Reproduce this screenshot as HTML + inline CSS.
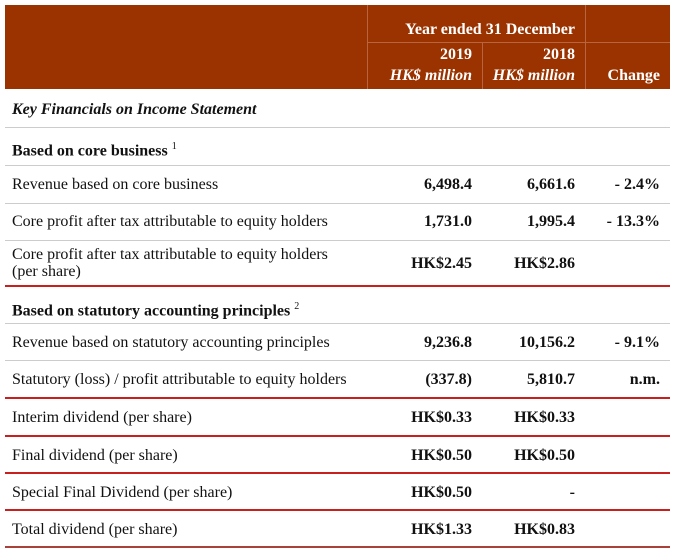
<!DOCTYPE html>
<html><head><meta charset="utf-8"><style>
body{margin:0;width:675px;height:556px;background:#fff;position:relative;font-family:"Liberation Serif",serif;font-size:16px;color:#111;overflow:hidden}
.a{position:absolute;white-space:nowrap;line-height:18px}
.b{font-weight:bold}
.r{text-align:right}
.hd{position:absolute;left:5px;top:5px;width:665px;height:84px;background:#9a3300}
.w{color:#fff;font-weight:bold}
.vl{position:absolute;width:1px;background:#b8653f}
.g{position:absolute;left:5px;width:665px;height:1px;background:#ccc}
.rd{position:absolute;left:5px;width:665px;height:2px;background:#c8201e}
</style></head><body>
<div class="hd"></div>
<div class="vl" style="left:367px;top:5px;height:84px"></div>
<div class="vl" style="left:482px;top:42px;height:47px"></div>
<div class="vl" style="left:585px;top:5px;height:84px"></div>
<div style="position:absolute;left:367px;top:42px;width:303px;height:1px;background:#b8653f"></div>
<div class="a w r" style="left:370px;width:205px;top:21px">Year ended 31 December</div>
<div class="a w r" style="left:380px;width:92px;top:46px">2019</div>
<div class="a w r" style="left:480px;width:95px;top:46px">2018</div>
<div class="a w r" style="left:370px;width:102px;top:67px;font-style:italic">HK$ million</div>
<div class="a w r" style="left:480px;width:95px;top:67px;font-style:italic">HK$ million</div>
<div class="a w r" style="left:590px;width:70px;top:67px">Change</div>

<div class="a b" style="left:12px;top:101px;font-style:italic">Key Financials on Income Statement</div>
<div class="g" style="top:127px"></div>
<div class="a b" style="left:12px;top:138px">Based on core business <sup style="font-weight:normal;font-size:10px">1</sup></div>
<div class="g" style="top:165px"></div>
<div class="a" style="left:12px;top:176px">Revenue based on core business</div>
<div class="a b r" style="left:362px;width:110px;top:176px">6,498.4</div>
<div class="a b r" style="left:465px;width:110px;top:176px">6,661.6</div>
<div class="a b r" style="left:570px;width:90px;top:176px">- 2.4%</div>
<div class="g" style="top:203px"></div>
<div class="a" style="left:12px;top:213px">Core profit after tax attributable to equity holders</div>
<div class="a b r" style="left:362px;width:110px;top:213px">1,731.0</div>
<div class="a b r" style="left:465px;width:110px;top:213px">1,995.4</div>
<div class="a b r" style="left:570px;width:90px;top:213px">- 13.3%</div>
<div class="g" style="top:240px"></div>
<div class="a" style="left:12px;top:246px">Core profit after tax attributable to equity holders</div>
<div class="a" style="left:12px;top:263px">(per share)</div>
<div class="a b r" style="left:362px;width:110px;top:255px">HK$2.45</div>
<div class="a b r" style="left:465px;width:110px;top:255px">HK$2.86</div>
<div class="rd" style="top:285px"></div>
<div class="a b" style="left:12px;top:298px">Based on statutory accounting principles <sup style="font-weight:normal;font-size:10px">2</sup></div>
<div class="g" style="top:323px"></div>
<div class="a" style="left:12px;top:334px">Revenue based on statutory accounting principles</div>
<div class="a b r" style="left:362px;width:110px;top:334px">9,236.8</div>
<div class="a b r" style="left:465px;width:110px;top:334px">10,156.2</div>
<div class="a b r" style="left:570px;width:90px;top:334px">- 9.1%</div>
<div class="g" style="top:360px"></div>
<div class="a" style="left:12px;top:371px">Statutory (loss) / profit attributable to equity holders</div>
<div class="a b r" style="left:362px;width:110px;top:371px">(337.8)</div>
<div class="a b r" style="left:465px;width:110px;top:371px">5,810.7</div>
<div class="a b r" style="left:570px;width:90px;top:371px">n.m.</div>
<div class="rd" style="top:397px"></div>
<div class="a" style="left:12px;top:409px">Interim dividend (per share)</div>
<div class="a b r" style="left:362px;width:110px;top:409px">HK$0.33</div>
<div class="a b r" style="left:465px;width:110px;top:409px">HK$0.33</div>
<div class="rd" style="top:435px"></div>
<div class="a" style="left:12px;top:447px">Final dividend (per share)</div>
<div class="a b r" style="left:362px;width:110px;top:447px">HK$0.50</div>
<div class="a b r" style="left:465px;width:110px;top:447px">HK$0.50</div>
<div class="rd" style="top:472px"></div>
<div class="a" style="left:12px;top:484px">Special Final Dividend (per share)</div>
<div class="a b r" style="left:362px;width:110px;top:484px">HK$0.50</div>
<div class="a b r" style="left:465px;width:110px;top:484px">-</div>
<div class="rd" style="top:509px"></div>
<div class="a" style="left:12px;top:521px">Total dividend (per share)</div>
<div class="a b r" style="left:362px;width:110px;top:521px">HK$1.33</div>
<div class="a b r" style="left:465px;width:110px;top:521px">HK$0.83</div>
<div class="rd" style="top:546px;background:#a8413a"></div>
</body></html>
